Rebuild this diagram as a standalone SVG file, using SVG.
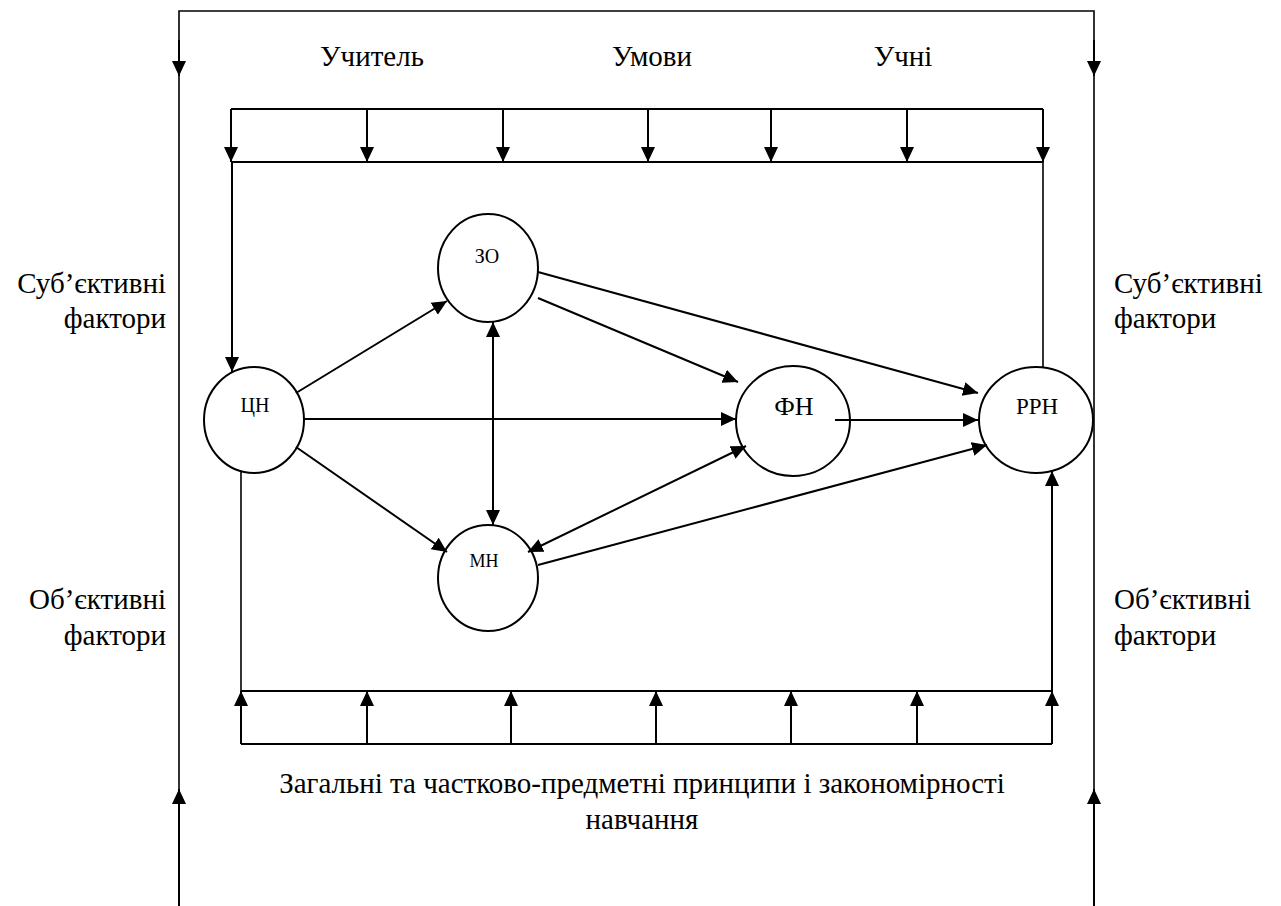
<svg xmlns="http://www.w3.org/2000/svg" width="1281" height="906" viewBox="0 0 1281 906">
<style>
text{font-family:'Liberation Serif','Tinos','Times New Roman','DejaVu Serif',serif;fill:#000}
.big{font-size:29px}
.ln{fill:none;stroke:#000;stroke-width:2}
.thin{fill:none;stroke:#000;stroke-width:1.6}
.a{marker-end:url(#ah)}
.d{marker-start:url(#ah);marker-end:url(#ah)}
.node ellipse{fill:#fff;stroke:#000;stroke-width:2}
</style>
<defs>
<marker id="ah" markerUnits="userSpaceOnUse" markerWidth="16" markerHeight="16" refX="15" refY="7" orient="auto-start-reverse" viewBox="0 0 16 14">
<path d="M0,0 L15,7 L0,14 Z" fill="#000"/>
</marker>
</defs>
<rect width="1281" height="906" fill="#fff"/>

<g id="connectors">
<path class="thin" d="M179,906 V11 H1094 V906"/>
<line class="ln a" x1="179" y1="40" x2="179" y2="76"/>
<line class="ln a" x1="1094" y1="40" x2="1094" y2="76"/>
<line class="ln a" x1="179" y1="906" x2="179" y2="789"/>
<line class="ln a" x1="1094" y1="906" x2="1094" y2="789"/>
<path class="ln" d="M231,109 H1043"/>
<path class="ln" d="M231,162 H1043"/>
<line class="ln a" x1="231" y1="109" x2="231" y2="162"/>
<line class="ln a" x1="367" y1="109" x2="367" y2="162"/>
<line class="ln a" x1="503" y1="109" x2="503" y2="162"/>
<line class="ln a" x1="648" y1="109" x2="648" y2="162"/>
<line class="ln a" x1="771" y1="109" x2="771" y2="162"/>
<line class="ln a" x1="907" y1="109" x2="907" y2="162"/>
<line class="ln a" x1="1043" y1="109" x2="1043" y2="162"/>
<line class="ln a" x1="232" y1="162" x2="232" y2="372"/>
<line class="thin" x1="1043" y1="162" x2="1043" y2="375"/>
<path class="ln" d="M241,691 H1052"/>
<path class="ln" d="M241,744 H1052"/>
<line class="ln a" x1="241" y1="744" x2="241" y2="691"/>
<line class="ln a" x1="367" y1="744" x2="367" y2="691"/>
<line class="ln a" x1="511" y1="744" x2="511" y2="691"/>
<line class="ln a" x1="656" y1="744" x2="656" y2="691"/>
<line class="ln a" x1="791" y1="744" x2="791" y2="691"/>
<line class="ln a" x1="917" y1="744" x2="917" y2="691"/>
<line class="ln a" x1="1052" y1="744" x2="1052" y2="691"/>
<line class="thin" x1="241" y1="466" x2="241" y2="691"/>
<line class="ln a" x1="1052" y1="691" x2="1052" y2="471"/>
</g>

<g id="node-cn" class="node"><ellipse cx="254" cy="420" rx="50" ry="53"/><text x="255" y="412" font-size="20" text-anchor="middle">ЦН</text></g>
<g id="node-zo" class="node"><ellipse cx="488" cy="268" rx="50" ry="54"/><text x="487" y="263" font-size="20" text-anchor="middle">ЗО</text></g>
<g id="node-mn" class="node"><ellipse cx="488" cy="578" rx="50" ry="53"/><text x="484" y="567" font-size="18" text-anchor="middle">МН</text></g>
<g id="node-fn" class="node"><ellipse cx="793" cy="421" rx="57" ry="55"/><text x="794" y="415" font-size="26" text-anchor="middle">ФН</text></g>
<g id="node-rrn" class="node"><ellipse cx="1036" cy="420" rx="57" ry="53"/><text x="1037" y="414" font-size="23" text-anchor="middle">РРН</text></g>

<g id="edges">
<line class="ln a" x1="296" y1="393" x2="447" y2="301"/>
<line class="ln a" x1="304" y1="419" x2="736" y2="419"/>
<line class="ln a" x1="296" y1="447" x2="447" y2="552"/>
<line class="ln d" x1="493" y1="322" x2="493" y2="525"/>
<line class="ln a" x1="538" y1="298" x2="738" y2="382"/>
<line class="ln a" x1="538" y1="272" x2="978" y2="393"/>
<line class="ln a" x1="835" y1="420" x2="978" y2="420"/>
<line class="ln d" x1="528" y1="552" x2="746" y2="446"/>
<line class="ln a" x1="538" y1="565" x2="987" y2="445"/>
</g>

<g id="labels">
<text class="big" x="372" y="66" text-anchor="middle">Учитель</text>
<text class="big" x="652" y="66" text-anchor="middle">Умови</text>
<text class="big" x="903" y="66" text-anchor="middle">Учні</text>
<text class="big" x="166" y="293" text-anchor="end">Суб’єктивні</text>
<text class="big" x="166" y="328" text-anchor="end">фактори</text>
<text class="big" x="1114" y="293">Суб’єктивні</text>
<text class="big" x="1114" y="328">фактори</text>
<text class="big" x="166" y="609" text-anchor="end">Об’єктивні</text>
<text class="big" x="166" y="645" text-anchor="end">фактори</text>
<text class="big" x="1114" y="609">Об’єктивні</text>
<text class="big" x="1114" y="645">фактори</text>
<text class="big" x="642" y="793" text-anchor="middle">Загальні та частково-предметні принципи і закономірності</text>
<text class="big" x="642" y="829" text-anchor="middle">навчання</text>
</g>
</svg>
